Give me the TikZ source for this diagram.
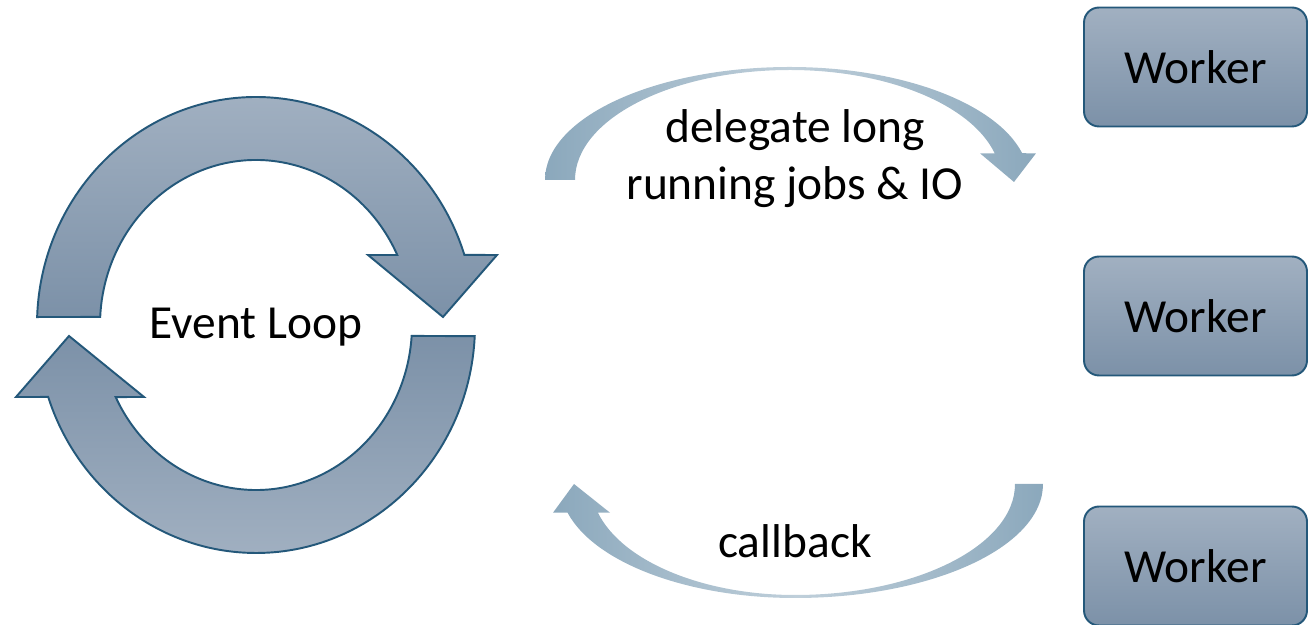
\documentclass[tikz,border=0pt]{standalone}
\usepackage{fontspec}
\setmainfont{Carlito}
\usetikzlibrary{positioning}
\definecolor{lpale}{RGB}{161,176,193}
\definecolor{ldeep}{RGB}{124,145,168}
\definecolor{ledge}{RGB}{36,88,122}
\definecolor{lflow}{RGB}{139,168,188}

\begin{document}
\begin{tikzpicture}[x=0.02cm, y=0.02cm,
    loopband/.style={draw=ledge, line width=1.1pt},
    worker/.style={draw=ledge, line width=1.1pt, rounded corners=0.3cm,
                   top color=lpale, bottom color=ldeep, minimum width=4.46cm,
                   minimum height=2.38cm, inner sep=0pt},
    flow/.style={left color=lflow, right color=lflow, middle color=lflow!55},
    lbl/.style={font=\fontsize{27}{32.4}\selectfont}
]
\useasboundingbox (0,0) rectangle (1309,625);

% Event loop
\begin{scope}[shift={(256,300)}]
\path[loopband, top color=lpale, bottom color=ldeep]
  (178:219 and 228) arc[start angle=178, end angle=17.9, x radius=219, y radius=228]
  -- (241,70) -- (187,8) -- (112,70)
  -- (25.1:156 and 165) arc[start angle=25.1, end angle=177.2, x radius=156, y radius=165]
  -- cycle;
\path[loopband, top color=ldeep, bottom color=lpale]
  (-2.8:219 and 228) arc[start angle=-2.8, end angle=-161.6, x radius=219, y radius=228]
  -- (-240,-72) -- (-187,-11) -- (-112,-72)
  -- (-154.1:156 and 165) arc[start angle=-154.1, end angle=-3.8, x radius=156, y radius=165]
  -- cycle;
\end{scope}
\node[lbl, anchor=base] (evloop) at (256,286) {Event Loop};

% Workers
\node[worker, lbl] (w1) at (1195.5,558) {Worker};
\node[worker, lbl] (w2) at (1195.5,309) {Worker};
\node[worker, lbl] (w3) at (1195.5,59) {Worker};

% Delegate arrow
\begin{scope}[shift={(790,445)}]
\path[flow]
  (-245,0) arc[start angle=180, end angle=90, x radius=245, y radius=113]
  arc[start angle=90, end angle=13.7, x radius=239, y radius=113]
  -- (246,26.7) -- (224,-2) -- (190,26.7)
  -- (14.06:211 and 110) arc[start angle=14.06, end angle=90, x radius=211, y radius=110]
  arc[start angle=90, end angle=180, x radius=215, y radius=110]
  -- cycle;
\end{scope}
\node[lbl, align=center] (jobs) at (795,466) {delegate long\\running jobs \& IO};

% Callback arrow
\begin{scope}[shift={(795,141)}]
\path[flow]
  (248,0) arc[start angle=0, end angle=-90, x radius=248, y radius=114]
  arc[start angle=-90, end angle=-165.4, x radius=235, y radius=114]
  -- (-242,-28.7) -- (-221,0) -- (-185,-28.7)
  -- (-165:204 and 111) arc[start angle=-165, end angle=-90, x radius=204, y radius=111]
  arc[start angle=-90, end angle=0, x radius=220, y radius=111]
  -- cycle;
\end{scope}
\node[lbl, anchor=base] (cb) at (795,67) {callback};

\end{tikzpicture}
\end{document}
